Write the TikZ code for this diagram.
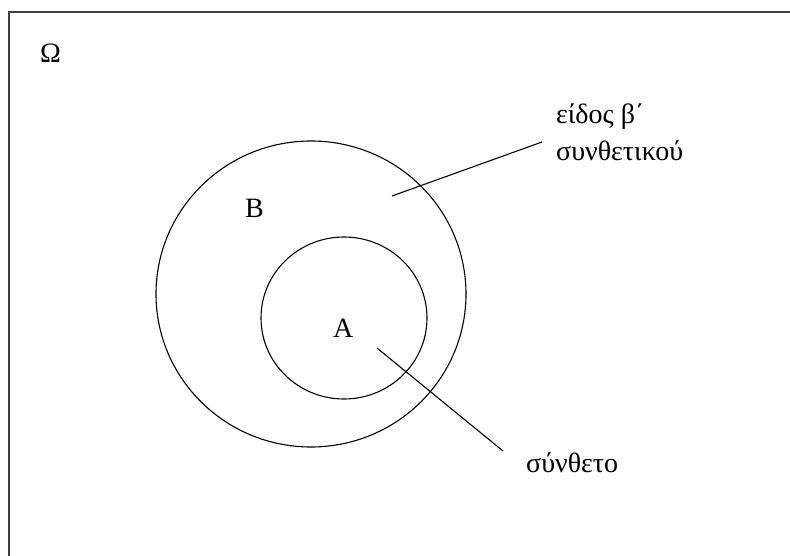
\documentclass[tikz,border=0pt]{standalone}
\usepackage{fontspec}
\setmainfont{Liberation Serif}
\begin{document}
\begin{tikzpicture}[x=1pt, y=-1pt, font=\fontsize{28}{32}\selectfont]
  \useasboundingbox (0,0) rectangle (790,556);

  % 1. πλαίσιο Ω (μόνο πάνω και αριστερά φαίνονται)
  \draw[line width=2.2pt, black!75] (790,12) -- (9,12) -- (9,556);
  \node[anchor=base west, inner sep=0] (Omega) at (40,63) {Ω};

  % 2. σύνολα B και A
  \draw[line width=1.1pt] (311,294) ellipse (155 and 153);
  \draw[line width=1.1pt] (344,318) ellipse (83 and 81);
  \node[anchor=base west, inner sep=0] (B) at (245,218) {B};
  \node[anchor=base west, inner sep=0] (A) at (333,337) {A};

  % 3. ετικέτες και γραμμές
  \coordinate (P) at (392,196);
  \coordinate (Q) at (542,142);
  \node[anchor=base west, inner sep=0] (eidos) at (556,124) {είδος β΄};
  \node[anchor=base west, inner sep=0] (synth) at (556,161) {συνθετικού};
  \draw[line width=1.1pt] (P) -- (Q);

  \coordinate (R) at (377,348);
  \coordinate (S) at (503,451);
  \node[anchor=base west, inner sep=0] (syntheto) at (526,472) {σύνθετο};
  \draw[line width=1.1pt] (R) -- (S);

\end{tikzpicture}
\end{document}
